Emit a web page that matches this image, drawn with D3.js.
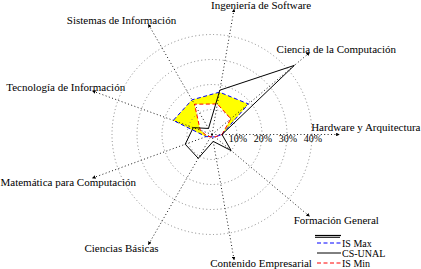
<!DOCTYPE html>
<html>
<head>
<meta charset="utf-8">
<script src="https://cdn.jsdelivr.net/npm/d3@7"></script>
<style>
  body { margin: 0; background: #fff; }
</style>
</head>
<body>
<script>
const width = 421;
const height = 269;
const serif = '"Liberation Serif", "DejaVu Serif", "Times New Roman", serif';

// axes, counter-clockwise from the right
const axisNames = ['Hardware y Arquitectura', 'Ciencia de la Computación', 'Ingeniería de Software',
  'Sistemas de Información', 'Tecnología de Información', 'Matemática para Computación',
  'Ciencias Básicas', 'Contenido Empresarial', 'Formación General'];
const isMax  = [4, 19, 17.2, 16, 16.5, 2.5, 1, 1, 1.5];
const csUnal = [4, 43, 18, 2.8, 8, 11.4, 11, 2.8, 10];
const isMin  = [4, 9.8, 12.4, 14, 5, 2, 1, 1, 1.5];
const ticks  = [10, 20, 30, 40];

const cx = 212, cy = 134.5;
const r = d3.scaleLinear().domain([0, 40]).range([0, 100]);
const axisMax = 50.8;
const step = 2 * Math.PI / axisNames.length;
const theta = i => i * step;

const svg = d3.select('body').append('svg')
  .attr('width', width)
  .attr('height', height)
  .style('font-family', serif);

const defs = svg.append('defs');
defs.append('marker')
  .attr('id', 'arr')
  .attr('viewBox', '0 0 10 10')
  .attr('refX', 8).attr('refY', 5)
  .attr('markerWidth', 4).attr('markerHeight', 4)
  .attr('orient', 'auto')
  .append('path').attr('d', 'M0,0L10,5L0,10z').attr('fill', '#000');

const g = svg.append('g').attr('transform', 'translate(' + cx + ',' + cy + ')');

const radial = d3.lineRadial()
  .angle((d, i) => Math.PI / 2 - theta(i))
  .radius(d => r(d))
  .curve(d3.curveLinearClosed);

// yellow band between max and min
g.append('path')
  .attr('d', radial(isMax) + radial(isMin))
  .attr('fill', '#ffff00')
  .attr('fill-rule', 'evenodd');

// grid circles
g.selectAll('.ring').data(ticks).enter().append('circle')
  .attr('class', 'ring')
  .attr('r', d => r(d))
  .attr('fill', 'none')
  .attr('stroke', '#777')
  .attr('stroke-width', 0.9)
  .attr('stroke-dasharray', '1,2.6');

// axes
const ax = g.selectAll('.axis').data(axisNames).enter().append('g').attr('class', 'axis');
ax.append('line')
  .attr('x1', 0).attr('y1', 0)
  .attr('x2', (d, i) => r(axisMax) * Math.cos(theta(i)))
  .attr('y2', (d, i) => -r(axisMax) * Math.sin(theta(i)))
  .attr('stroke', '#000')
  .attr('stroke-width', 0.9)
  .attr('stroke-dasharray', '1,2.4')
  .attr('marker-end', 'url(#arr)');

ax.append('text')
  .attr('x', (d, i) => {
    const c = Math.cos(theta(i));
    return r(axisMax) * c + (c >= 0 ? 27 : -27);
  })
  .attr('y', (d, i) => {
    const s = Math.sin(theta(i));
    if (Math.abs(s) < 0.01) return -7.5;
    return -r(axisMax) * s + (s > 0 ? -4 : 4);
  })
  .attr('dy', '0.35em')
  .attr('text-anchor', 'middle')
  .style('font-family', serif)
  .style('font-size', '11px')
  .text(d => d)
  .each(function() {
    // keep labels inside the page
    const w = this.getComputedTextLength();
    const x = +this.getAttribute('x');
    const left = cx + x - w / 2;
    const right = cx + x + w / 2;
    if (left < 0.5) this.setAttribute('x', x + (0.5 - left));
    if (right > width - 0.5) this.setAttribute('x', x - (right - width + 0.5));
  });

// tick labels along the first axis
g.selectAll('.tick').data(ticks).enter().append('text')
  .attr('class', 'tick')
  .attr('x', d => r(d) + 1)
  .attr('y', 7)
  .attr('text-anchor', 'middle')
  .style('font-family', serif)
  .style('font-size', '10px')
  .text(d => d + '%');

// series lines
const series = [
  {name: 'IS Max', values: isMax, color: '#0000ff', dash: '4,2.5'},
  {name: 'IS Min', values: isMin, color: '#ff0000', dash: '4,2.5'},
  {name: 'CS-UNAL', values: csUnal, color: '#000', dash: null}
];
series.forEach(s => {
  g.append('path')
    .attr('d', radial(s.values))
    .attr('fill', 'none')
    .attr('stroke', s.color)
    .attr('stroke-width', 1)
    .attr('stroke-dasharray', s.dash);
});

// legend
const legendOrder = ['IS Max', 'CS-UNAL', 'IS Min'];
const lg = svg.append('g').attr('transform', 'translate(315,235)');
lg.append('line').attr('x1', 0).attr('x2', 26).attr('y1', 0.5).attr('y2', 0.5)
  .attr('stroke', '#000').attr('stroke-width', 1.2);
lg.append('line').attr('x1', 0).attr('x2', 25).attr('y1', 2.3).attr('y2', 2.3)
  .attr('stroke', '#000').attr('stroke-width', 1);
legendOrder.forEach((name, k) => {
  const s = series.find(d => d.name === name);
  const y = 8 + k * 10;
  lg.append('line').attr('x1', 2).attr('x2', 26).attr('y1', y).attr('y2', y)
    .attr('stroke', s.color).attr('stroke-width', 1)
    .attr('stroke-dasharray', s.dash);
  lg.append('text').attr('x', 27).attr('y', y).attr('dy', '0.35em')
    .style('font-family', serif)
    .style('font-size', '10px').text(name);
});
</script>
</body>
</html>
